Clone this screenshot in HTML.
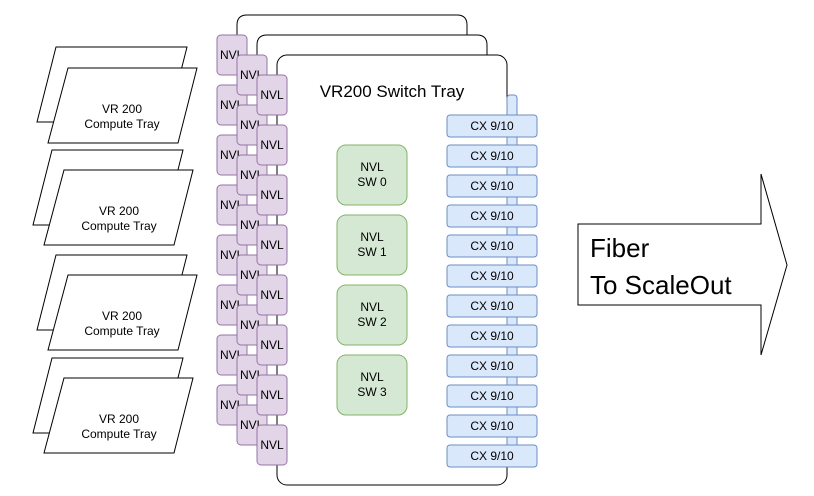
<!DOCTYPE html>
<html><head><style>
body{margin:0;background:#fff}
svg{display:block;font-family:"Liberation Sans",Arial,sans-serif}
</style></head><body>
<svg width="814" height="496" viewBox="0 0 814 496">
<g stroke="#000" stroke-width="1" fill="#fff">
<!-- compute trays -->
<polygon points="56,47 187,47 168,122 37,122"/>
<polygon points="68,68 197,68 178,143 48,143"/>
<polygon points="52,150 183,150 164,225 33,225"/>
<polygon points="64,170 193,170 174,245 44,245"/>
<polygon points="56,255 187,255 168,330 37,330"/>
<polygon points="68,275 197,275 178,350 48,350"/>
<polygon points="52,358 183,358 164,433 33,433"/>
<polygon points="64,378 193,378 174,453 44,453"/>
</g>
<g font-size="12" text-anchor="middle" fill="#000">
<text x="122" y="113">VR 200</text><text x="122" y="128">Compute Tray</text>
<text x="119" y="215">VR 200</text><text x="119" y="230">Compute Tray</text>
<text x="122" y="320">VR 200</text><text x="122" y="335">Compute Tray</text>
<text x="119" y="423">VR 200</text><text x="119" y="438">Compute Tray</text>
</g>
<!-- switch trays -->
<path d="M237,430 V25 Q237,15 247,15 H457 Q467,15 467,25 V430" fill="#fff" stroke="#000"/>
<path d="M257,450 V45 Q257,35 267,35 H477 Q487,35 487,45 V450" fill="#fff" stroke="#000"/>
<rect x="277" y="55" width="230" height="430" rx="10" fill="#fff" stroke="#000"/>
<text x="392" y="97" font-size="17" text-anchor="middle">VR200 Switch Tray</text>
<!-- blue strip -->
<rect x="507" y="95" width="10" height="360" rx="3" fill="#dae8fc" stroke="#6c8ebf"/>
<g id="nvl" stroke="#9673a6" fill="#e1d5e7" font-size="12">
</g>
<g stroke="#9673a6" fill="#e1d5e7">
<rect x="217" y="35" width="30" height="40" rx="4"/><rect x="217" y="85" width="30" height="40" rx="4"/><rect x="217" y="135" width="30" height="40" rx="4"/><rect x="217" y="185" width="30" height="40" rx="4"/><rect x="217" y="235" width="30" height="40" rx="4"/><rect x="217" y="285" width="30" height="40" rx="4"/><rect x="217" y="335" width="30" height="40" rx="4"/><rect x="217" y="385" width="30" height="40" rx="4"/>
</g>
<g font-size="12"><text x="220" y="59">NVL</text><text x="220" y="109">NVL</text><text x="220" y="159">NVL</text><text x="220" y="209">NVL</text><text x="220" y="259">NVL</text><text x="220" y="309">NVL</text><text x="220" y="359">NVL</text><text x="220" y="409">NVL</text></g>
<g stroke="#9673a6" fill="#e1d5e7">
<rect x="237" y="55" width="30" height="40" rx="4"/><rect x="237" y="105" width="30" height="40" rx="4"/><rect x="237" y="155" width="30" height="40" rx="4"/><rect x="237" y="205" width="30" height="40" rx="4"/><rect x="237" y="255" width="30" height="40" rx="4"/><rect x="237" y="305" width="30" height="40" rx="4"/><rect x="237" y="355" width="30" height="40" rx="4"/><rect x="237" y="405" width="30" height="40" rx="4"/>
</g>
<g font-size="12"><text x="240" y="79">NVL</text><text x="240" y="129">NVL</text><text x="240" y="179">NVL</text><text x="240" y="229">NVL</text><text x="240" y="279">NVL</text><text x="240" y="329">NVL</text><text x="240" y="379">NVL</text><text x="240" y="429">NVL</text></g>
<g stroke="#9673a6" fill="#e1d5e7">
<rect x="257" y="75" width="30" height="40" rx="4"/><rect x="257" y="125" width="30" height="40" rx="4"/><rect x="257" y="175" width="30" height="40" rx="4"/><rect x="257" y="225" width="30" height="40" rx="4"/><rect x="257" y="275" width="30" height="40" rx="4"/><rect x="257" y="325" width="30" height="40" rx="4"/><rect x="257" y="375" width="30" height="40" rx="4"/><rect x="257" y="425" width="30" height="40" rx="4"/>
</g>
<g font-size="12" text-anchor="middle"><text x="272" y="99">NVL</text><text x="272" y="149">NVL</text><text x="272" y="199">NVL</text><text x="272" y="249">NVL</text><text x="272" y="299">NVL</text><text x="272" y="349">NVL</text><text x="272" y="399">NVL</text><text x="272" y="449">NVL</text></g>
<!-- green -->
<g stroke="#82b366" fill="#d5e8d4">
<rect x="337" y="145" width="70" height="60" rx="9"/><rect x="337" y="215" width="70" height="60" rx="9"/><rect x="337" y="285" width="70" height="60" rx="9"/><rect x="337" y="355" width="70" height="60" rx="9"/>
</g>
<g font-size="12" text-anchor="middle">
<text x="372" y="171">NVL</text><text x="372" y="186">SW 0</text>
<text x="372" y="241">NVL</text><text x="372" y="256">SW 1</text>
<text x="372" y="311">NVL</text><text x="372" y="326">SW 2</text>
<text x="372" y="381">NVL</text><text x="372" y="396">SW 3</text>
</g>
<!-- CX -->
<g stroke="#6c8ebf" fill="#dae8fc">
<rect x="447" y="115" width="90" height="22" rx="3"/><rect x="447" y="145" width="90" height="22" rx="3"/><rect x="447" y="175" width="90" height="22" rx="3"/><rect x="447" y="205" width="90" height="22" rx="3"/><rect x="447" y="235" width="90" height="22" rx="3"/><rect x="447" y="265" width="90" height="22" rx="3"/><rect x="447" y="295" width="90" height="22" rx="3"/><rect x="447" y="325" width="90" height="22" rx="3"/><rect x="447" y="355" width="90" height="22" rx="3"/><rect x="447" y="385" width="90" height="22" rx="3"/><rect x="447" y="415" width="90" height="22" rx="3"/><rect x="447" y="445" width="90" height="22" rx="3"/>
</g>
<g font-size="12" text-anchor="middle">
<text x="492" y="130">CX 9/10</text><text x="492" y="160">CX 9/10</text><text x="492" y="190">CX 9/10</text><text x="492" y="220">CX 9/10</text><text x="492" y="250">CX 9/10</text><text x="492" y="280">CX 9/10</text><text x="492" y="310">CX 9/10</text><text x="492" y="340">CX 9/10</text><text x="492" y="370">CX 9/10</text><text x="492" y="400">CX 9/10</text><text x="492" y="430">CX 9/10</text><text x="492" y="460">CX 9/10</text>
</g>
<!-- arrow -->
<polygon points="578,224 761,224 761,174 787,265 761,355 761,305 578,305" fill="#fff" stroke="#000"/>
<text x="590" y="257" font-size="26">Fiber</text>
<text x="590" y="294" font-size="26">To ScaleOut</text>
</svg>
</body></html>
